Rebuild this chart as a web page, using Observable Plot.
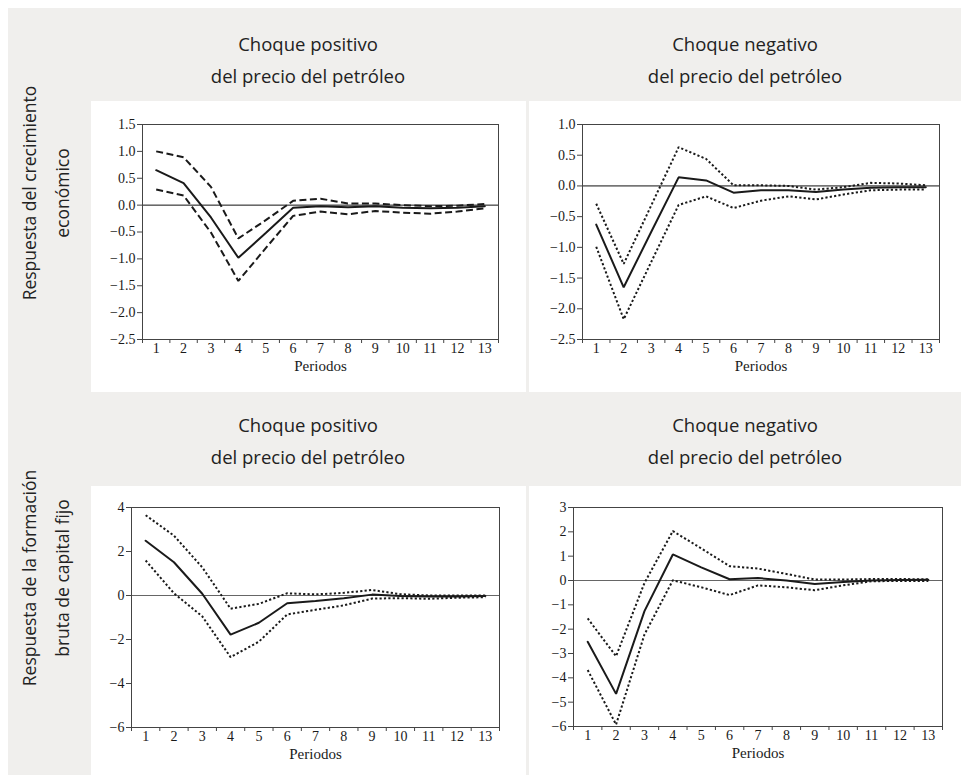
<!DOCTYPE html>
<html>
<head>
<meta charset="utf-8">
<script src="https://cdn.jsdelivr.net/npm/d3@7"></script>
<script src="https://cdn.jsdelivr.net/npm/@observablehq/plot@0.6"></script>
<style>
  html, body { margin: 0; padding: 0; background: #ffffff; }
  #page { position: relative; width: 961px; height: 775px; overflow: hidden; }
  #bg { position: absolute; left: 8px; top: 8px; right: 0; bottom: 0; background: #f0efed; }
  .panel { position: absolute; background: #ffffff; }
  .coltitle { position: absolute; width: 420px; text-align: center; font-family: "Open Sans", sans-serif;
              font-size: 18.5px; line-height: 32px; color: #222; }
  .rowtitle { position: absolute; width: 320px; height: 66px; text-align: center; font-family: "Open Sans", sans-serif;
              font-size: 17.5px; line-height: 33px; color: #222; transform: rotate(-90deg); }
</style>
</head>
<body>
<div id="page">
  <div id="bg"></div>
  <div class="coltitle" style="left:98px; top:28px;">Choque positivo<br>del precio del petróleo</div>
  <div class="coltitle" style="left:535px; top:28px;">Choque negativo<br>del precio del petróleo</div>
  <div class="coltitle" style="left:98px; top:409px;">Choque positivo<br>del precio del petróleo</div>
  <div class="coltitle" style="left:535px; top:409px;">Choque negativo<br>del precio del petróleo</div>
  <div class="rowtitle" style="left:-114px; top:160px;">Respuesta del crecimiento<br>económico</div>
  <div class="rowtitle" style="left:-114px; top:545px;">Respuesta de la formación<br>bruta de capital fijo</div>
  <div class="panel" id="p1" style="left:91px; top:101px; width:435px; height:291px;"></div>
  <div class="panel" id="p2" style="left:529px; top:101px; width:432px; height:291px;"></div>
  <div class="panel" id="p3" style="left:91px; top:486px; width:435px; height:289px;"></div>
  <div class="panel" id="p4" style="left:529px; top:486px; width:432px; height:289px;"></div>
</div>
<script>
// Periods (x categories / tick labels)
const periods = [1, 2, 3, 4, 5, 6, 7, 8, 9, 10, 11, 12, 13];

// Crecimiento económico — choque positivo
const crecPosIrf = [0.65, 0.41, -0.23, -0.98, -0.52, -0.05, -0.02, -0.04, -0.02, -0.05, -0.06, -0.05, -0.02];
const crecPosHi  = [1.00, 0.89, 0.34, -0.62, -0.28, 0.08, 0.12, 0.03, 0.03, 0.00, -0.02, -0.01, 0.02];
const crecPosLo  = [0.29, 0.18, -0.51, -1.41, -0.80, -0.20, -0.12, -0.17, -0.11, -0.14, -0.16, -0.12, -0.06];

// Crecimiento económico — choque negativo
const crecNegIrf = [-0.63, -1.65, -0.75, 0.14, 0.09, -0.11, -0.07, -0.07, -0.10, -0.06, -0.03, -0.02, -0.02];
const crecNegHi  = [-0.29, -1.27, -0.32, 0.63, 0.44, 0.01, 0.01, 0.00, -0.06, -0.02, 0.05, 0.04, 0.01];
const crecNegLo  = [-0.99, -2.17, -1.24, -0.31, -0.17, -0.36, -0.24, -0.17, -0.22, -0.14, -0.07, -0.06, -0.06];

// Formación bruta de capital fijo — choque positivo
const fbkPosIrf = [2.49, 1.51, 0.08, -1.78, -1.24, -0.35, -0.25, -0.12, 0.04, -0.02, -0.05, -0.04, -0.02];
const fbkPosHi  = [3.65, 2.72, 1.28, -0.60, -0.38, 0.10, 0.05, 0.12, 0.25, 0.06, 0.00, 0.00, 0.00];
const fbkPosLo  = [1.59, 0.10, -0.95, -2.80, -2.10, -0.86, -0.65, -0.45, -0.14, -0.12, -0.15, -0.10, -0.08];

// Formación bruta de capital fijo — choque negativo
const fbkNegIrf = [-2.52, -4.66, -1.26, 1.07, 0.54, 0.05, 0.10, 0.00, -0.14, -0.06, 0.00, 0.02, 0.03];
const fbkNegHi  = [-1.56, -3.11, -0.10, 2.03, 1.32, 0.59, 0.49, 0.27, 0.04, 0.04, 0.06, 0.06, 0.05];
const fbkNegLo  = [-3.68, -5.92, -2.22, 0.01, -0.28, -0.60, -0.20, -0.28, -0.40, -0.20, -0.03, -0.02, -0.02];

// Y tick values
const yTicksCrecPos = [1.5, 1.0, 0.5, 0.0, -0.5, -1.0, -1.5, -2.0, -2.5];
const yTicksCrecNeg = [1.0, 0.5, 0.0, -0.5, -1.0, -1.5, -2.0, -2.5];
const yTicksFbkPos  = [4, 2, 0, -2, -4, -6];
const yTicksFbkNeg  = [3, 2, 1, 0, -1, -2, -3, -4, -5, -6];

const xLabel = "Periodos";

const minus = (s) => s.replace("-", "\u2212");
const fmt1 = d => minus(d.toFixed(1));
const fmt0 = d => minus(d.toFixed(0));

function panel({irf, lo, hi, dash, yDomain, yTicks, yFormat, width, height, ml, mr, mt, mb, zeroColor}) {
  const rows = periods.map((p, i) => ({p, irf: irf[i], lo: lo[i], hi: hi[i]}));
  const edges = periods.map(p => p - 0.5).concat([periods[periods.length - 1] + 0.5]);
  const lineOpts = {stroke: "#1a1a1a", strokeWidth: 2, strokeDasharray: dash, strokeLinecap: "butt", strokeLinejoin: "miter"};
  return Plot.plot({
    width, height,
    marginLeft: ml, marginRight: mr, marginTop: mt, marginBottom: mb,
    style: {fontFamily: "'Liberation Serif', serif", fontSize: "14px", color: "#1a1a1a", background: "transparent", overflow: "visible"},
    x: {domain: [edges[0], edges[edges.length - 1]], label: null},
    y: {domain: yDomain, label: null},
    marks: [
      Plot.ruleY([0], {stroke: zeroColor, strokeWidth: 1}),
      Plot.line(rows, {x: "p", y: "hi", ...lineOpts}),
      Plot.line(rows, {x: "p", y: "lo", ...lineOpts}),
      Plot.line(rows, {x: "p", y: "irf", stroke: "#1a1a1a", strokeWidth: 2, strokeLinejoin: "miter"}),
      Plot.frame({stroke: "#444", strokeWidth: 1}),
      Plot.axisY(yTicks, {tickSize: 5, tickFormat: () => "", stroke: "#444", label: null}),
      Plot.axisX(edges, {tickSize: 4, tickFormat: () => "", stroke: "#444", label: null}),
      Plot.text(yTicks, {y: d => d, text: yFormat, frameAnchor: "left", textAnchor: "end", dx: -7, fontSize: 14, fill: "#1a1a1a"}),
      Plot.text(periods, {x: d => d, text: d => String(d), frameAnchor: "bottom", dy: 13.5, fontSize: 14, fill: "#1a1a1a"}),
      Plot.text([xLabel], {frameAnchor: "bottom", dy: 31, fontSize: 15, fill: "#1a1a1a"})
    ]
  });
}

document.getElementById("p1").appendChild(panel({
  irf: crecPosIrf, lo: crecPosLo, hi: crecPosHi, dash: "7,3.5",
  yDomain: [-2.5, 1.5], yTicks: yTicksCrecPos, yFormat: fmt1,
  width: 435, height: 291, ml: 51, mr: 28, mt: 23, mb: 53, zeroColor: "#111"
}));
document.getElementById("p2").appendChild(panel({
  irf: crecNegIrf, lo: crecNegLo, hi: crecNegHi, dash: "2.2,2.2",
  yDomain: [-2.5, 1.0], yTicks: yTicksCrecNeg, yFormat: fmt1,
  width: 432, height: 291, ml: 53, mr: 22, mt: 23, mb: 53, zeroColor: "#111"
}));
document.getElementById("p3").appendChild(panel({
  irf: fbkPosIrf, lo: fbkPosLo, hi: fbkPosHi, dash: "2.2,2.2",
  yDomain: [-6, 4], yTicks: yTicksFbkPos, yFormat: fmt0,
  width: 435, height: 289, ml: 40, mr: 27, mt: 21, mb: 48, zeroColor: "#666"
}));
document.getElementById("p4").appendChild(panel({
  irf: fbkNegIrf, lo: fbkNegLo, hi: fbkNegHi, dash: "2.2,2.2",
  yDomain: [-6, 3], yTicks: yTicksFbkNeg, yFormat: fmt0,
  width: 432, height: 289, ml: 44, mr: 19, mt: 21, mb: 49, zeroColor: "#666"
}));
</script>
</body>
</html>
